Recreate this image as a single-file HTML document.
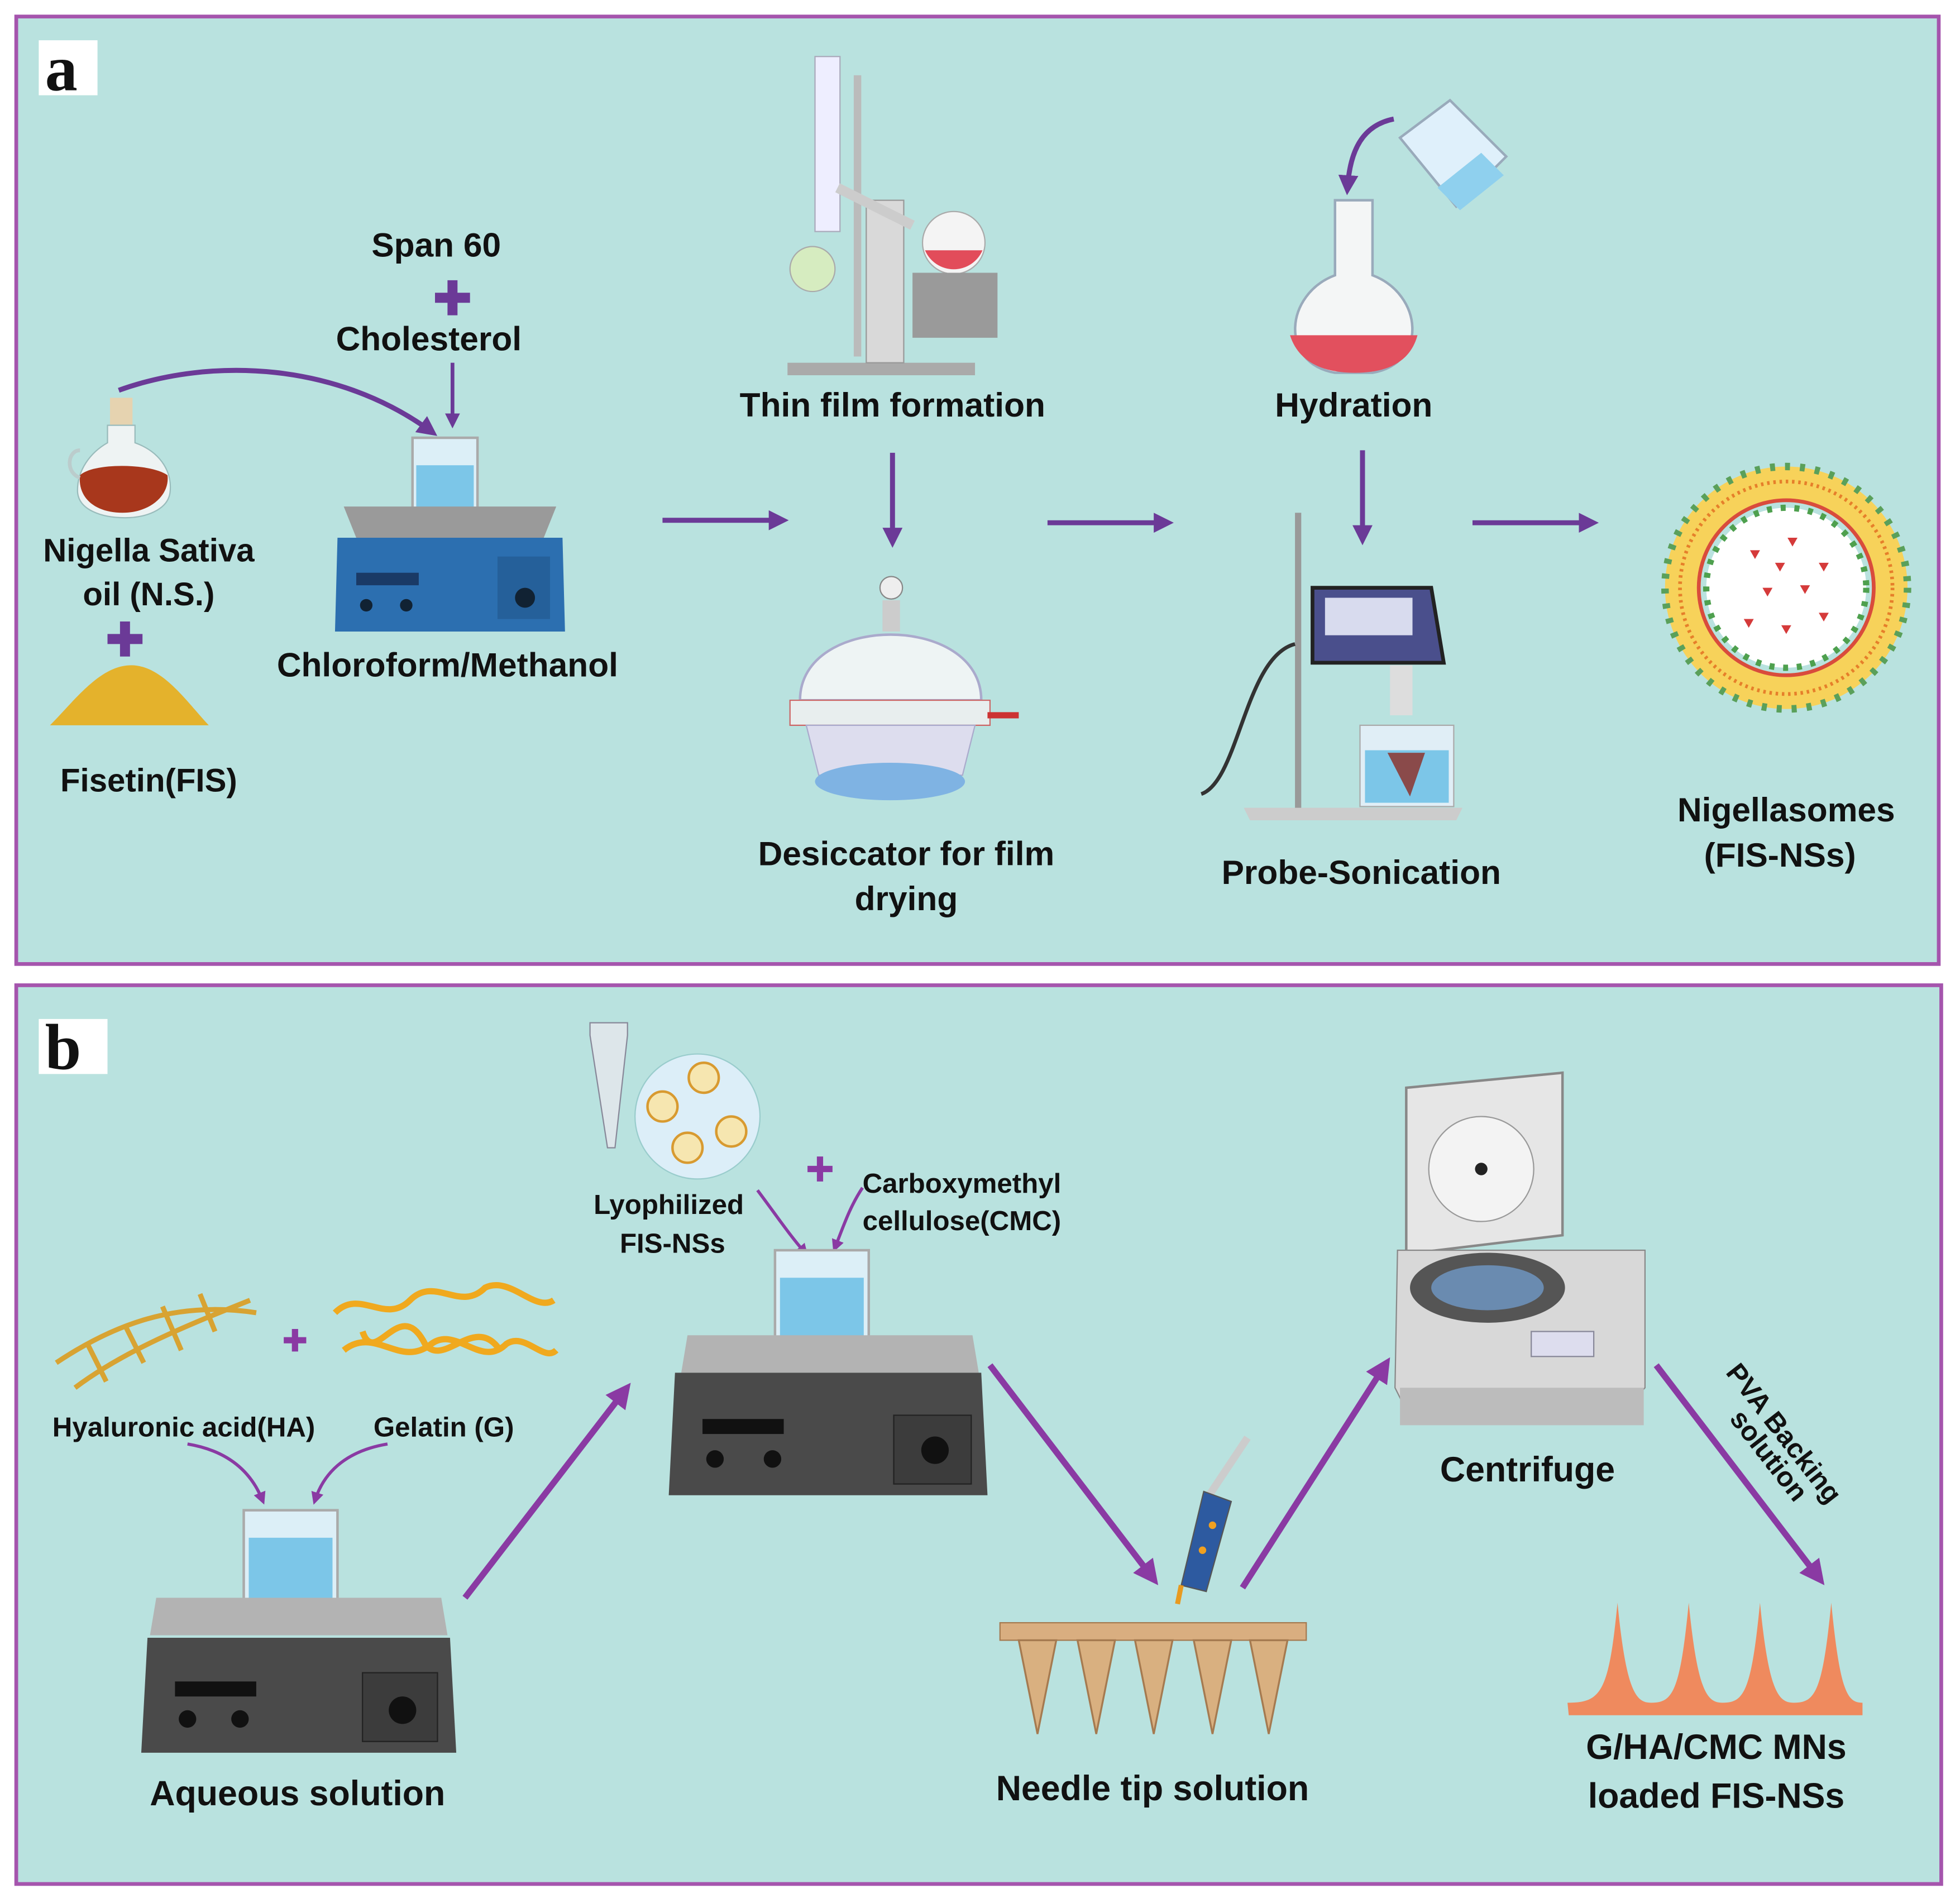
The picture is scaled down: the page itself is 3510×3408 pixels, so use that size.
<!DOCTYPE html>
<html><head><meta charset="utf-8"><style>
html,body{margin:0;padding:0;background:#fff}
svg{display:block}
text{font-family:"Liberation Sans",sans-serif;font-weight:bold;fill:#111}
</style></head><body>
<svg width="3510" height="3408" viewBox="0 0 1568 1522" xmlns="http://www.w3.org/2000/svg">
<defs>
<marker id="ah" markerWidth="4" markerHeight="4" refX="2.5" refY="2" orient="auto" markerUnits="strokeWidth"><path d="M0,0 L4,2 L0,4 z" fill="#6b3a97"/></marker>
<marker id="ah2" markerWidth="4" markerHeight="4" refX="2.5" refY="2" orient="auto" markerUnits="strokeWidth"><path d="M0,0 L4,2 L0,4 z" fill="#8a3aa3"/></marker>
</defs>
<rect width="1568" height="1522" fill="#fff"/>
<!-- panel a -->
<rect x="13" y="13" width="1538" height="758" fill="#b9e2df" stroke="#a555ad" stroke-width="3"/>
<rect x="31" y="32" width="47" height="44" fill="#fff"/>
<text x="36" y="72" style="font-family:'Liberation Serif',serif;font-size:52px;font-weight:900" fill="#000">a</text>
<!-- panel b -->
<rect x="13" y="788" width="1540" height="719" fill="#b9e2df" stroke="#a555ad" stroke-width="3"/>
<rect x="31" y="815" width="55" height="44" fill="#fff"/>
<text x="36" y="855" style="font-family:'Liberation Serif',serif;font-size:52px;font-weight:900" fill="#000">b</text>

<!-- ===== panel a content ===== -->
<!-- oil bottle -->
<rect x="88" y="318" width="18" height="22" fill="#e6d3b0"/>
<path d="M86,340 h22 v14 c22,8 30,25 28,40 c-2,14 -20,20 -36,20 c-18,0 -38,-6 -38,-22 c0,-16 10,-30 24,-38z" fill="#eef3f3" stroke="#9bb" />
<path d="M64,380 c10,-10 56,-10 70,0 c2,16 -14,30 -36,30 c-22,0 -36,-12 -34,-30z" fill="#a8371c"/>
<path d="M64,360 c-10,0 -12,18 0,22" fill="none" stroke="#bcc" stroke-width="3"/>
<!-- powder -->
<path d="M40,580 c20,-20 40,-48 65,-48 c25,0 45,30 62,48 z" fill="#e4b22c"/>
<text x="119" y="449" font-size="26" text-anchor="middle">Nigella Sativa</text>
<text x="119" y="484" font-size="26" text-anchor="middle">oil (N.S.)</text>
<path d="M100,497 v28 M86,511 h28" stroke="#6b3a97" stroke-width="8"/>
<text x="119" y="633" font-size="26" text-anchor="middle">Fisetin(FIS)</text>
<!-- curved arrow -->
<path d="M95,312 C170,285 270,290 345,345" fill="none" stroke="#6b3a97" stroke-width="4" marker-end="url(#ah)"/>
<text x="349" y="205" font-size="27" text-anchor="middle">Span 60</text>
<path d="M362,224 v28 M348,238 h28" stroke="#6b3a97" stroke-width="8"/>
<text x="343" y="280" font-size="27" text-anchor="middle">Cholesterol</text>
<path d="M362,290 v48" stroke="#6b3a97" stroke-width="3" marker-end="url(#ah)"/>
<!-- stirrer a -->
<path d="M330,350 h52 v72 h-52z" fill="#dceff7" stroke="#aaa" stroke-width="2"/>
<rect x="333" y="372" width="46" height="48" fill="#7cc6e8"/>
<path d="M275,405 h170 l-10,25 h-150z" fill="#9a9a9a"/>
<path d="M270,430 h180 l2,75 h-184z" fill="#2c6fb0"/>
<rect x="285" y="458" width="50" height="10" fill="#1a3a66"/>
<rect x="398" y="445" width="42" height="50" fill="#25609a"/>
<circle cx="420" cy="478" r="8" fill="#123"/>
<circle cx="293" cy="484" r="5" fill="#123"/><circle cx="325" cy="484" r="5" fill="#123"/>
<text x="358" y="541" font-size="27" text-anchor="middle">Chloroform/Methanol</text>
<!-- arrows row a -->
<path d="M530,416 h95" stroke="#6b3a97" stroke-width="4" marker-end="url(#ah)"/>
<path d="M838,418 h95" stroke="#6b3a97" stroke-width="4" marker-end="url(#ah)"/>
<path d="M1178,418 h95" stroke="#6b3a97" stroke-width="4" marker-end="url(#ah)"/>
<path d="M714,362 v70" stroke="#6b3a97" stroke-width="4" marker-end="url(#ah)"/>
<path d="M1090,360 v70" stroke="#6b3a97" stroke-width="4" marker-end="url(#ah)"/>
<!-- rotavap -->
<rect x="652" y="45" width="20" height="140" fill="#eef" stroke="#aab"/>
<rect x="683" y="60" width="6" height="225" fill="#bbb"/>
<path d="M630,290 h150 v10 h-150z" fill="#aaa"/>
<rect x="693" y="160" width="30" height="130" fill="#d9d9d9" stroke="#999"/>
<circle cx="650" cy="215" r="18" fill="#d6ecc0" stroke="#aaa"/>
<circle cx="763" cy="194" r="25" fill="#f4f4f4" stroke="#aaa"/>
<path d="M740,200 a25,25 0 0 0 46,0z" fill="#e24c5a"/>
<rect x="730" y="218" width="68" height="52" fill="#9a9a9a"/>
<path d="M670,150 l60,30" stroke="#ccc" stroke-width="8"/>
<text x="714" y="333" font-size="27" text-anchor="middle">Thin film formation</text>
<!-- desiccator -->
<path d="M640,560 c0,-70 145,-70 145,0z" fill="#eef4f4" stroke="#aac" stroke-width="2"/>
<rect x="706" y="480" width="14" height="25" fill="#ccc"/>
<circle cx="713" cy="470" r="9" fill="#eee" stroke="#888"/>
<path d="M632,560 h160 v20 h-160z" fill="#e8eeee" stroke="#c66"/>
<path d="M645,580 h135 l-10,40 h-115z" fill="#dde" stroke="#aac"/>
<ellipse cx="712" cy="625" rx="60" ry="15" fill="#7fb3e3"/>
<path d="M790,572 h25" stroke="#c33" stroke-width="5"/>
<text x="725" y="692" font-size="27" text-anchor="middle">Desiccator for film</text>
<text x="725" y="728" font-size="27" text-anchor="middle">drying</text>
<!-- hydration -->
<path d="M1068,160 h30 v60 c40,15 45,70 0,78 h-30 c-45,-8 -40,-63 0,-78z" fill="#f4f6f6" stroke="#9ab" stroke-width="2"/>
<path d="M1032,268 h102 c-6,22 -25,30 -50,30 c-25,0 -45,-8 -52,-30z" fill="#e2505e"/>
<path d="M1120,110 l40,-30 l45,45 l-40,40z" fill="#dff0fb" stroke="#9ab" stroke-width="2"/>
<path d="M1150,150 l35,-28 l18,18 l-35,28z" fill="#8fd0ee"/>
<path d="M1115,95 c-25,5 -35,25 -37,55" fill="none" stroke="#6b3a97" stroke-width="4" marker-end="url(#ah)"/>
<text x="1083" y="333" font-size="27" text-anchor="middle">Hydration</text>
<!-- probe sonicator -->
<rect x="1036" y="410" width="5" height="240" fill="#999"/>
<path d="M995,646 h175 l-5,10 h-165z" fill="#ccc"/>
<path d="M1050,470 h95 l10,60 h-105z" fill="#4a4f8c" stroke="#222" stroke-width="3"/>
<rect x="1060" y="478" width="70" height="30" fill="#d8dbee"/>
<rect x="1112" y="532" width="18" height="40" fill="#ddd"/>
<path d="M1088,580 h75 v65 h-75z" fill="#e0eef6" stroke="#aaa"/>
<rect x="1092" y="600" width="67" height="42" fill="#7cc6e8"/>
<path d="M1110,602 h30 l-12,35z" fill="#8a4a4a"/>
<path d="M1036,515 c-40,10 -45,110 -75,120" fill="none" stroke="#333" stroke-width="3"/>
<text x="1089" y="707" font-size="27" text-anchor="middle">Probe-Sonication</text>
<!-- niosome -->
<circle cx="1429" cy="470" r="97" fill="#f7d25a" stroke="#5aa05a" stroke-width="6" stroke-dasharray="4 8"/>
<circle cx="1429" cy="470" r="70" fill="#b9e2df" stroke="#d94c3c" stroke-width="3"/>
<circle cx="1429" cy="470" r="85" fill="none" stroke="#e67f2a" stroke-width="3" stroke-dasharray="2 3"/>
<circle cx="1429" cy="470" r="64" fill="#fff" stroke="#4ea04e" stroke-width="5" stroke-dasharray="4 7"/>
<g fill="#d53a3a">
<path d="M1400,440 l8,0 l-4,7z"/><path d="M1430,430 l8,0 l-4,7z"/><path d="M1455,450 l8,0 l-4,7z"/>
<path d="M1410,470 l8,0 l-4,7z"/><path d="M1440,468 l8,0 l-4,7z"/><path d="M1395,495 l8,0 l-4,7z"/>
<path d="M1425,500 l8,0 l-4,7z"/><path d="M1455,490 l8,0 l-4,7z"/><path d="M1420,450 l8,0 l-4,7z"/>
</g>
<text x="1429" y="657" font-size="27" text-anchor="middle">Nigellasomes</text>
<text x="1424" y="693" font-size="27" text-anchor="middle">(FIS-NSs)</text>

<!-- ===== panel b content ===== -->
<!-- HA & gelatin -->
<path d="M45,1090 C90,1060 140,1040 205,1050 M60,1110 C100,1080 150,1060 200,1040 M70,1075 l15,30 M100,1060 l15,30 M130,1045 l15,35 M160,1035 l12,30" stroke="#d8a332" stroke-width="4" fill="none"/>
<path d="M236,1063 v18 M227,1072 h18" stroke="#8a3aa3" stroke-width="5"/>
<path d="M268,1050 c20,-20 40,10 60,-10 c20,-20 40,10 60,-10 c20,-10 40,20 55,10 M275,1080 c25,-20 45,15 70,-5 c20,-15 40,20 60,0 c15,-10 30,15 40,5 M290,1065 c10,30 30,-30 50,10 c15,20 40,-25 60,5" stroke="#f0a91e" stroke-width="5" fill="none"/>
<text x="147" y="1149" font-size="22" text-anchor="middle">Hyaluronic acid(HA)</text>
<text x="355" y="1149" font-size="22" text-anchor="middle">Gelatin (G)</text>
<path d="M150,1155 c30,5 50,20 60,45" fill="none" stroke="#8a3aa3" stroke-width="2.5" marker-end="url(#ah2)"/>
<path d="M310,1155 c-30,5 -50,20 -58,45" fill="none" stroke="#8a3aa3" stroke-width="2.5" marker-end="url(#ah2)"/>
<!-- stirrer b1 -->
<path d="M195,1208 h75 v92 h-75z" fill="#dceff7" stroke="#aaa" stroke-width="2"/>
<rect x="199" y="1230" width="67" height="68" fill="#7cc6e8"/>
<path d="M125,1278 h228 l5,30 h-238z" fill="#b3b3b3"/>
<path d="M118,1310 h242 l5,92 h-252z" fill="#4a4a4a"/>
<rect x="140" y="1345" width="65" height="12" fill="#111"/>
<rect x="290" y="1338" width="60" height="55" fill="#3c3c3c" stroke="#222"/>
<circle cx="322" cy="1368" r="11" fill="#111"/>
<circle cx="150" cy="1375" r="7" fill="#111"/><circle cx="192" cy="1375" r="7" fill="#111"/>
<text x="238" y="1444" font-size="28" text-anchor="middle">Aqueous solution</text>
<path d="M372,1278 L500,1112" stroke="#8a3aa3" stroke-width="5" marker-end="url(#ah2)"/>
<!-- tube + bubble -->
<path d="M472,818 h30 v10 l-10,90 h-6 l-14,-90z" fill="#dde6ea" stroke="#889"/>
<circle cx="558" cy="893" r="50" fill="#dceef8" stroke="#9cc"/>
<g fill="#f6e6b0" stroke="#d89a30" stroke-width="2">
<circle cx="563" cy="862" r="12"/><circle cx="530" cy="885" r="12"/><circle cx="585" cy="905" r="12"/><circle cx="550" cy="918" r="12"/>
</g>
<text x="535" y="971" font-size="22" text-anchor="middle">Lyophilized</text>
<text x="538" y="1002" font-size="22" text-anchor="middle">FIS-NSs</text>
<path d="M656,925 v20 M646,935 h20" stroke="#8a3aa3" stroke-width="5"/>
<text x="690" y="954" font-size="22">Carboxymethyl</text>
<text x="690" y="984" font-size="22">cellulose(CMC)</text>
<path d="M606,952 c15,20 25,35 38,50" fill="none" stroke="#8a3aa3" stroke-width="2.5" marker-end="url(#ah2)"/>
<path d="M690,950 c-10,15 -15,30 -22,48" fill="none" stroke="#8a3aa3" stroke-width="2.5" marker-end="url(#ah2)"/>
<!-- stirrer b2 -->
<path d="M620,1000 h75 v90 h-75z" fill="#dceff7" stroke="#aaa" stroke-width="2"/>
<rect x="624" y="1022" width="67" height="66" fill="#7cc6e8"/>
<path d="M550,1068 h228 l5,30 h-238z" fill="#b3b3b3"/>
<path d="M540,1098 h245 l5,98 h-255z" fill="#4a4a4a"/>
<rect x="562" y="1135" width="65" height="12" fill="#111"/>
<rect x="715" y="1132" width="62" height="55" fill="#3c3c3c" stroke="#222"/>
<circle cx="748" cy="1160" r="11" fill="#111"/>
<circle cx="572" cy="1167" r="7" fill="#111"/><circle cx="618" cy="1167" r="7" fill="#111"/>
<path d="M792,1092 L922,1262" stroke="#8a3aa3" stroke-width="5" marker-end="url(#ah2)"/>
<!-- syringe -->
<path d="M968,1195 l30,-45" stroke="#ccc" stroke-width="6"/>
<path d="M945,1268 l18,-75 l22,8 l-20,72z" fill="#2d5aa0" stroke="#555"/>
<circle cx="962" cy="1240" r="3" fill="#f0a020"/><circle cx="970" cy="1220" r="3" fill="#f0a020"/>
<path d="M945,1268 l-3,15" stroke="#e89a20" stroke-width="4"/>
<!-- MN mold -->
<rect x="800" y="1298" width="245" height="14" fill="#d9ae80" stroke="#a57a50"/>
<g fill="#d9b080" stroke="#a57a50" stroke-width="1.5">
<path d="M815,1312 h30 l-15,75z"/><path d="M862,1312 h30 l-15,75z"/><path d="M908,1312 h30 l-15,75z"/><path d="M955,1312 h30 l-15,75z"/><path d="M1000,1312 h30 l-15,75z"/>
</g>
<text x="922" y="1440" font-size="28" text-anchor="middle">Needle tip solution</text>
<path d="M994,1270 L1108,1092" stroke="#8a3aa3" stroke-width="5" marker-end="url(#ah2)"/>
<!-- centrifuge -->
<path d="M1125,870 l125,-12 v130 l-125,15z" fill="#e6e6e6" stroke="#888" stroke-width="2"/>
<circle cx="1185" cy="935" r="42" fill="#f3f3f3" stroke="#999"/>
<circle cx="1185" cy="935" r="5" fill="#222"/>
<path d="M1118,1000 h198 v110 l-10,10 h-185 l-5,-10z" fill="#d8d8d8" stroke="#888"/>
<ellipse cx="1190" cy="1030" rx="62" ry="28" fill="#555"/>
<ellipse cx="1190" cy="1030" rx="45" ry="18" fill="#6a8bb0"/>
<path d="M1120,1110 h195 v30 h-195z" fill="#bcbcbc"/>
<rect x="1225" y="1065" width="50" height="20" fill="#dde" stroke="#889"/>
<text x="1222" y="1185" font-size="28" text-anchor="middle">Centrifuge</text>
<path d="M1325,1092 L1455,1262" stroke="#8a3aa3" stroke-width="5" marker-end="url(#ah2)"/>
<text transform="translate(1380,1098) rotate(52)" font-size="22">PVA Backing</text>
<text transform="translate(1383,1135) rotate(52)" font-size="22">solution</text>
<!-- MN patch -->
<path d="M1255,1372 h235 v-10 c-12,0 -18,-8 -25,-80 c-7,72 -13,80 -30,80 c-12,0 -20,-8 -27,-80 c-7,72 -13,80 -30,80 c-12,0 -20,-8 -27,-80 c-7,72 -13,80 -30,80 c-12,0 -20,-8 -27,-80 c-7,72 -13,80 -40,80 z" fill="#ef8a5e"/>
<text x="1373" y="1407" font-size="28" text-anchor="middle">G/HA/CMC MNs</text>
<text x="1373" y="1446" font-size="28" text-anchor="middle">loaded FIS-NSs</text>
</svg>
</body></html>
